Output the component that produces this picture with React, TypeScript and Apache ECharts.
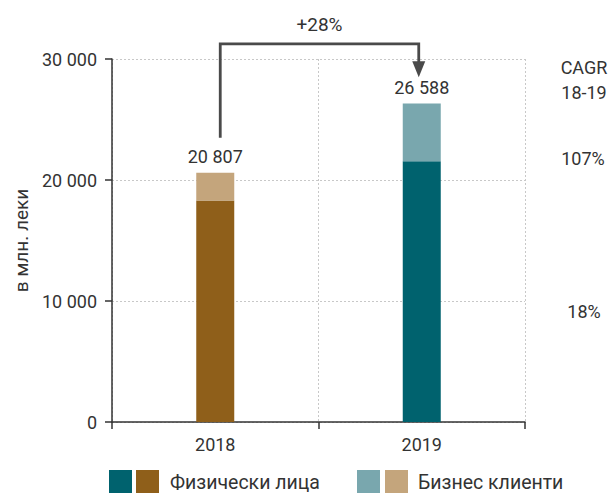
import React, { useEffect, useRef } from "react";
import * as echarts from "echarts";

const categories = ["2018", "2019"];
const individuals = [18300, 21550];
const business = [2300, 4780];
const totals = [20807, 26588];
const individualsColors = ["#8F5F1A", "#00626E"];
const businessColors = ["#C4A57C", "#79A7AE"];
const yTicks = [0, 10000, 20000, 30000];
const growthLabel = "+28%";
const cagrTitle = ["CAGR", "18-19"];
const cagrBusiness = "107%";
const cagrIndividuals = "18%";
const legendNames = ["Физически лица", "Бизнес клиенти"];

const FONT = "Roboto, 'Liberation Sans', sans-serif";
const TXT = "#333333";
const FS = 18;

const fmt = (v: number) => String(v).replace(/\B(?=(\d{3})+(?!\d))/g, " ");

export default function App() {
  const ref = useRef<HTMLDivElement>(null);
  useEffect(() => {
    if (!ref.current) return;
    const chart = echarts.init(ref.current, null, { renderer: "svg" });
    chart.setOption({
      animation: false,
      textStyle: { fontFamily: FONT },
      grid: { left: 112, right: 85, top: 59, bottom: 73 },
      xAxis: {
        type: "category",
        data: categories,
        axisLine: { lineStyle: { color: "#333", width: 1.5 } },
        axisTick: { show: true, length: 7, lineStyle: { color: "#333", width: 1.5 } },
        axisLabel: { color: TXT, fontSize: FS, margin: 13, fontFamily: FONT },
        splitLine: { show: true, lineStyle: { color: "#c8c8c8", type: [2, 2], width: 1 } },
      },
      yAxis: {
        type: "value",
        min: yTicks[0],
        max: yTicks[yTicks.length - 1],
        interval: yTicks[1] - yTicks[0],
        name: "в млн. леки",
        nameLocation: "middle",
        nameGap: 80,
        nameTextStyle: { color: TXT, fontSize: 19, fontFamily: FONT },
        axisLine: { show: true, lineStyle: { color: "#333", width: 1.5 } },
        axisTick: { show: true, length: 7, lineStyle: { color: "#333", width: 1.5 } },
        axisLabel: { color: TXT, fontSize: FS, margin: 15, fontFamily: FONT, formatter: (v: number) => fmt(v) },
        splitLine: { show: true, lineStyle: { color: "#c8c8c8", type: [2, 2], width: 1 } },
      },
      series: [
        {
          name: legendNames[0],
          type: "bar",
          stack: "total",
          barWidth: 38,
          data: individuals.map((v, i) => ({ value: v, itemStyle: { color: individualsColors[i] } })),
        },
        {
          name: legendNames[1],
          type: "bar",
          stack: "total",
          barWidth: 38,
          data: business.map((v, i) => ({ value: v, itemStyle: { color: businessColors[i] } })),
          label: {
            show: true,
            position: "top",
            distance: 7,
            color: TXT,
            fontSize: FS,
            fontFamily: FONT,
            formatter: (p: any) => fmt(totals[p.dataIndex]),
          },
        },
      ],
    });

    const x0 = chart.convertToPixel({ xAxisIndex: 0 }, categories[0]) as number;
    const x1 = chart.convertToPixel({ xAxisIndex: 0 }, categories[1]) as number;
    const yTop = chart.convertToPixel({ yAxisIndex: 0 }, 31250) as number;
    const yLeftBottom = chart.convertToPixel({ yAxisIndex: 0 }, 23500) as number;
    const yArrow = chart.convertToPixel({ yAxisIndex: 0 }, 28500) as number;
    const yCagrB = chart.convertToPixel({ yAxisIndex: 0 }, 21800) as number;
    const yCagrI = chart.convertToPixel({ yAxisIndex: 0 }, 9100) as number;
    const lx = x0 + 5;
    const rx = x1 - 3;
    const lineStyle = { stroke: "#4a4a4a", lineWidth: 2.8, fill: null };

    const legendY = 470;
    const sw = 23;
    const txt = (text: string, x: number, y: number, extra: any = {}) => ({
      type: "text",
      x,
      y,
      style: { text, fill: TXT, fontSize: FS, fontFamily: FONT, align: "center", verticalAlign: "middle", ...extra },
    });
    chart.setOption({
      graphic: [
        { type: "polyline", shape: { points: [[lx, yLeftBottom], [lx, yTop], [rx, yTop], [rx, yArrow - 14]] }, style: lineStyle },
        { type: "polygon", shape: { points: [[rx - 6.5, yArrow - 16], [rx + 6.5, yArrow - 16], [rx, yArrow]] }, style: { fill: "#4a4a4a" } },
        txt(growthLabel, (lx + rx) / 2, yTop - 19, { fontSize: 19 }),
        txt(cagrTitle[0], 584, 67),
        txt(cagrTitle[1], 584, 92),
        txt(cagrBusiness, 583, yCagrB),
        txt(cagrIndividuals, 584, yCagrI),
        { type: "rect", shape: { x: 109, y: legendY, width: sw, height: sw }, style: { fill: individualsColors[1] } },
        { type: "rect", shape: { x: 136, y: legendY, width: sw, height: sw }, style: { fill: individualsColors[0] } },
        txt(legendNames[0], 170, legendY + sw / 2 + 1, { align: "left", fontSize: 19.5 }),
        { type: "rect", shape: { x: 357, y: legendY, width: sw, height: sw }, style: { fill: businessColors[1] } },
        { type: "rect", shape: { x: 385, y: legendY, width: sw, height: sw }, style: { fill: businessColors[0] } },
        txt(legendNames[1], 418, legendY + sw / 2 + 1, { align: "left", fontSize: 19.5 }),
      ],
    });
    return () => chart.dispose();
  }, []);
  return <div ref={ref} style={{ width: 610, height: 495, position: "absolute", left: 0, top: 0 }} />;
}
